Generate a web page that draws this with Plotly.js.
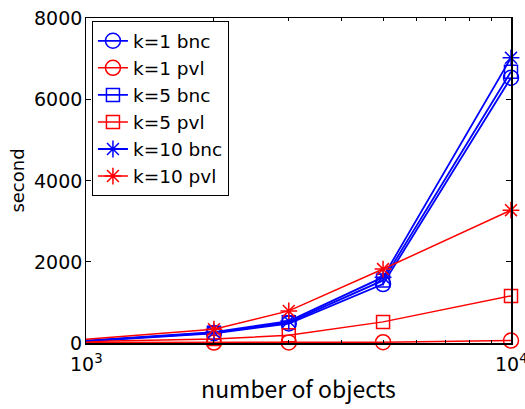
<!DOCTYPE html>
<html><head><meta charset="utf-8">
<script src="https://cdn.plot.ly/plotly-3.0.1.min.js"></script>
<style>body{margin:0;background:#fff}#c{width:525px;height:409px}</style>
</head><body><div id="c"></div>
<script>
const objects = [1000, 2000, 3000, 5000, 10000];
const k1bnc  = [40, 240, 480, 1450, 6530];
const k1pvl  = [10, 10, 15, 20, 60];
const k5bnc  = [50, 250, 510, 1540, 6680];
const k5pvl  = [40, 100, 190, 520, 1160];
const k10bnc = [60, 270, 540, 1620, 7020];
const k10pvl = [90, 340, 790, 1820, 3270];
const names = ["k=1 bnc","k=1 pvl","k=5 bnc","k=5 pvl","k=10 bnc","k=10 pvl"];
const xTickVals = [1000, 10000];
const xTickText = ['10<sup>3</sup>','10<sup>4</sup>'];
const yTickVals = [0, 2000, 4000, 6000, 8000];
const yTickText = ['0','2000','4000','6000','8000'];
const series = [k1bnc,k1pvl,k5bnc,k5pvl,k10bnc,k10pvl];
const colors = ["#0000ff","#ff0000","#0000ff","#ff0000","#0000ff","#ff0000"];
const symbols = ["circle-open","circle-open","square-open","square-open","asterisk-open","asterisk-open"];
const sizes = [15,15,13,13,14,14];
const traces = series.map((s,i)=>({
  x: objects, y: s, name: names[i], type:'scatter', mode:'lines+markers', cliponaxis:false,
  line:{color:colors[i], width: i%2===0?1.8:1.5},
  marker:{symbol:symbols[i], size:sizes[i], color:colors[i], line:{color:colors[i], width:1.5}}
}));
const dv = '"DejaVu Sans", sans-serif';
const xAnn = xTickVals.map((v,i)=>({x:Math.log10(v), xref:'x', y:0, yref:'paper', yanchor:'top', xanchor:'center',
    yshift:-6, showarrow:false, text:xTickText[i], font:{family:dv, color:'#000', size:19}}));
const yAnn = yTickVals.map((v,i)=>({x:0, xref:'paper', y:v, yref:'y', yanchor:'middle', xanchor:'right',
    xshift:-2, showarrow:false, text:yTickText[i], font:{family:dv, color:'#000', size:19}}));
const layout = {
  width:525, height:409,
  margin:{l:86, r:14, t:18, b:66},
  paper_bgcolor:'#fff', plot_bgcolor:'#fff',
  showlegend:true,
  legend:{x:0.014, y:0.99, xanchor:'left', yanchor:'top', bgcolor:'#fff',
    bordercolor:'#000', borderwidth:1, font:{family:dv, color:'#000', size:18.5}, tracegroupgap:0},
  xaxis:{type:'log', range:[3,4], tickvals:xTickVals, showticklabels:false, ticks:'inside', ticklen:5, tickcolor:'#000',
    showline:true, linecolor:'#000', linewidth:1.5, mirror:'ticks', showgrid:false, zeroline:false,
    minor:{tickvals:[2000,3000,4000,5000,6000,7000,8000,9000], ticks:'inside', ticklen:3, tickcolor:'#000', showgrid:false},
    title:{text:'number of objects', font:{family:'"Noto Sans CJK JP", sans-serif', color:'#000', size:23}, standoff:38}},
  yaxis:{range:[0,8000], tickvals:yTickVals, showticklabels:false, ticks:'inside', ticklen:5, tickcolor:'#000',
    showline:true, linecolor:'#000', linewidth:1.5, mirror:'ticks', showgrid:false, zeroline:false,
    title:{text:'second', font:{family:dv, color:'#000', size:18}, standoff:55}},
  annotations: xAnn.concat(yAnn)
};
Plotly.newPlot('c', traces, layout, {displayModeBar:false, staticPlot:true});
</script></body></html>
